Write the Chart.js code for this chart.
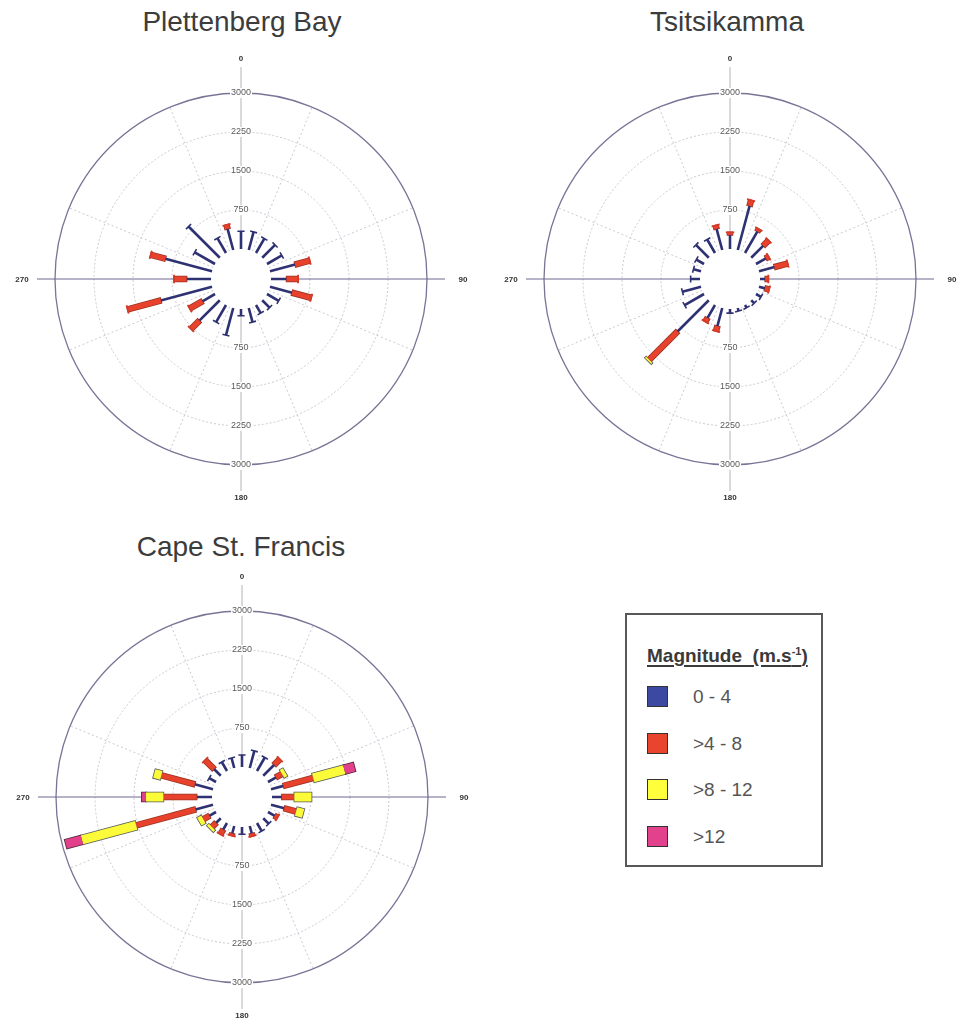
<!DOCTYPE html>
<html>
<head>
<meta charset="utf-8">
<script src="https://cdn.jsdelivr.net/npm/chart.js@4.4.1/dist/chart.umd.min.js"></script>
<style>
  html, body { margin:0; padding:0; background:#fff; width:957px; height:1027px; overflow:hidden; position:relative;
    font-family:"Liberation Sans", Arial, sans-serif; }
  .title { position:absolute; width:400px; text-align:center; font-size:28px; line-height:28px; color:#3c3c3c; }
  .rose { position:absolute; }
  #legend { position:absolute; left:625px; top:613px; width:194px; height:250px; border:2px solid #585858; }
  #legend .lg-title { position:absolute; left:20px; top:27px; font-size:19px; line-height:19px; font-weight:bold; color:#3a3a3a;
    text-decoration:underline; text-decoration-thickness:2px; text-underline-offset:3px; white-space:nowrap; }
  #legend .lg-title sup { font-size:11px; }
  #legend .sw { position:absolute; left:20px; width:21px; height:21px; box-sizing:border-box; border:1.5px solid #333; }
  #legend .lb { position:absolute; left:66px; font-size:19px; line-height:21px; color:#555; white-space:nowrap; }
</style>
</head>
<body>
<div class="title" style="left:42px; top:8px;">Plettenberg Bay</div>
<div class="title" style="left:527px; top:8px;">Tsitsikamma</div>
<div class="title" style="left:41px; top:533px;">Cape St. Francis</div>

<canvas id="plett" class="rose" width="470" height="470" style="left:6px; top:44px;"></canvas>
<canvas id="tsit" class="rose" width="470" height="470" style="left:495px; top:44px;"></canvas>
<canvas id="cape" class="rose" width="470" height="470" style="left:7px; top:562px;"></canvas>

<div id="legend"></div>

<script>
// Direction sectors (degrees clockwise from north) and count ring ticks
const directions = [0, 15, 30, 45, 60, 75, 90, 105, 120, 135, 150, 165,
                    180, 195, 210, 225, 240, 255, 270, 285, 300, 315, 330, 345];
const ringTicks = [750, 1500, 2250, 3000];
const compassLabels = ['0', '90', '180', '270'];

// Speed classes
const classLabels = ['0 - 4', '>4 - 8', '>8 - 12', '>12'];
const classColors = ['#2f3272', '#e8422c', '#fbfb3a', '#e2408a'];
const classOutline = [null, '#9c3424', '#585858', '#4a2a3a'];
const classWidths = [2.6, 5, 9, 9];

// Plettenberg Bay counts per direction
const plettBlue    = [340, 360, 320, 350, 330, 500, 300, 440, 260, 200, 180, 280, 130, 540, 380, 555, 280, 1020, 470, 930, 450, 850, 330, 420];
const plettRed     = [0, 0, 0, 0, 0, 290, 220, 380, 0, 0, 0, 0, 0, 0, 0, 225, 280, 660, 240, 290, 0, 0, 0, 80];
const plettYellow  = [0, 0, 0, 0, 0, 0, 0, 0, 0, 0, 0, 0, 0, 0, 0, 0, 0, 0, 0, 0, 0, 0, 0, 0];
const plettMagenta = [0, 0, 0, 0, 0, 0, 0, 0, 0, 0, 0, 0, 0, 0, 0, 0, 0, 0, 0, 0, 0, 0, 0, 0];

// Tsitsikamma counts per direction
const tsitBlue    = [270, 880, 480, 330, 220, 310, 100, 120, 110, 80, 60, 60, 80, 360, 290, 850, 430, 370, 180, 150, 170, 350, 300, 420];
const tsitRed     = [50, 110, 50, 140, 60, 260, 60, 80, 0, 0, 0, 0, 0, 100, 80, 770, 0, 0, 0, 0, 0, 0, 0, 70];
const tsitYellow  = [0, 0, 0, 0, 0, 0, 0, 0, 0, 0, 0, 0, 0, 0, 0, 30, 0, 0, 0, 0, 0, 0, 0, 0];
const tsitMagenta = [0, 0, 0, 0, 0, 0, 0, 0, 0, 0, 0, 0, 0, 0, 0, 0, 0, 0, 0, 0, 0, 0, 0, 0];

// Cape St. Francis counts per direction
const capeBlue    = [230, 340, 300, 300, 180, 250, 190, 265, 150, 150, 180, 150, 140, 150, 150, 130, 150, 350, 295, 365, 150, 185, 200, 200];
const capeRed     = [0, 0, 0, 150, 130, 590, 240, 235, 60, 0, 0, 50, 0, 40, 100, 110, 130, 1180, 640, 665, 0, 240, 0, 0];
const capeYellow  = [0, 0, 0, 0, 70, 620, 330, 140, 0, 0, 0, 0, 0, 0, 0, 50, 90, 1080, 335, 140, 0, 0, 0, 0];
const capeMagenta = [0, 0, 0, 0, 0, 200, 0, 0, 0, 0, 0, 0, 0, 0, 0, 0, 0, 320, 80, 0, 0, 0, 0, 0];

// Geometry in count units: 3000 counts span 156 px, the empty centre is 30 px wide
const pxPerUnit = 156 / 3000;
const holeValue = 30 / pxPerUnit;
const halfExtent = 235 / pxPerUnit;

const GAP = { x: null, y: null };

function pt(dir, rho) {
  const a = dir * Math.PI / 180;
  return { x: rho * Math.sin(a), y: rho * Math.cos(a) };
}

function lineSet(data, color, width, order) {
  return {
    data, showLine: true, borderColor: color, backgroundColor: color, borderWidth: width,
    borderCapStyle: 'butt', borderJoinStyle: 'miter', pointRadius: 0, pointHoverRadius: 0, pointHitRadius: 0,
    spanGaps: false, fill: false, tension: 0, order, clip: false
  };
}

function buildDatasets(series) {
  const fills = series.map(() => []);
  const outlines = series.map(() => []);
  const capBlue = [], capRed = [];
  const ext = 0.8 / pxPerUnit;
  directions.forEach((dir, i) => {
    let r0 = holeValue;
    let last = -1;
    series.forEach((vals, k) => {
      const v = vals[i];
      if (!v) return;
      const r1 = r0 + v;
      fills[k].push(pt(dir, r0), pt(dir, r1), GAP);
      outlines[k].push(pt(dir, r0 - ext), pt(dir, r1 + ext), GAP);
      r0 = r1;
      last = k;
    });
    if (last === 0 || last === 1) {
      const half = (last === 0 ? 3.6 : 4.2) / pxPerUnit;
      const a = dir * Math.PI / 180;
      const e = pt(dir, r0);
      const px = Math.cos(a) * half, py = -Math.sin(a) * half;
      const target = last === 0 ? capBlue : capRed;
      target.push({ x: e.x - px, y: e.y - py }, { x: e.x + px, y: e.y + py }, GAP);
    }
  });
  const sets = [];
  sets.push(lineSet(capBlue, classColors[0], 1.6, 0));
  sets.push(lineSet(capRed, '#d63a28', 1.8, 0));
  for (let k = series.length - 1; k >= 0; k--) {
    sets.push(lineSet(fills[k], classColors[k], classWidths[k], 1 + (series.length - 1 - k)));
  }
  for (let k = series.length - 1; k >= 1; k--) {
    sets.push(lineSet(outlines[k], classOutline[k], classWidths[k] + 1.6, 10 + (series.length - 1 - k)));
  }
  return sets;
}

// Polar grid, axes and labels drawn from the chart's own linear scales
const roseGrid = {
  id: 'roseGrid',
  beforeDatasetsDraw(chart) {
    const { ctx, scales: { x, y } } = chart;
    const cx = x.getPixelForValue(0), cy = y.getPixelForValue(0);
    const k = (x.getPixelForValue(1000) - cx) / 1000;
    const rpx = v => (holeValue + v) * k;
    ctx.save();

    // rings
    ringTicks.forEach(t => {
      ctx.beginPath();
      ctx.arc(cx, cy, rpx(t), 0, Math.PI * 2);
      if (t === ringTicks[ringTicks.length - 1]) {
        ctx.setLineDash([]);
        ctx.strokeStyle = '#7b7396';
        ctx.lineWidth = 1.3;
      } else {
        ctx.setLineDash([2, 2]);
        ctx.strokeStyle = '#c9c9d3';
        ctx.lineWidth = 1;
      }
      ctx.stroke();
    });

    // dotted spokes
    ctx.setLineDash([2, 2.5]);
    ctx.strokeStyle = '#c9c9d3';
    ctx.lineWidth = 1;
    for (let d = 22.5; d < 360; d += 45) {
      const a = d * Math.PI / 180;
      const r0 = rpx(0), r1 = rpx(3000);
      ctx.beginPath();
      ctx.moveTo(cx + r0 * Math.sin(a), cy - r0 * Math.cos(a));
      ctx.lineTo(cx + r1 * Math.sin(a), cy - r1 * Math.cos(a));
      ctx.stroke();
    }
    ctx.setLineDash([]);

    // axes
    const inner = rpx(0);
    ctx.strokeStyle = '#b4b4b8';
    ctx.lineWidth = 1;
    ctx.beginPath();
    ctx.moveTo(cx, cy - inner); ctx.lineTo(cx, cy - 212);
    ctx.moveTo(cx, cy + inner); ctx.lineTo(cx, cy + 212);
    ctx.stroke();
    ctx.strokeStyle = '#6e6892';
    ctx.beginPath();
    ctx.moveTo(cx - inner, cy); ctx.lineTo(cx - 204, cy);
    ctx.moveTo(cx + inner, cy); ctx.lineTo(cx + 204, cy);
    ctx.stroke();

    // ring tick labels on the vertical axis
    ctx.font = '9px "Liberation Sans", Arial, sans-serif';
    ctx.textAlign = 'center';
    ctx.textBaseline = 'middle';
    ringTicks.forEach(t => {
      const label = String(t);
      const w = ctx.measureText(label).width + 2;
      [-1, 1].forEach(s => {
        const yy = cy + s * rpx(t);
        ctx.fillStyle = '#ffffff';
        ctx.fillRect(cx - w / 2, yy - 5, w, 10);
        ctx.fillStyle = '#5a5a5a';
        ctx.fillText(label, cx, yy);
      });
    });

    // compass labels
    ctx.font = 'bold 8px "Liberation Sans", Arial, sans-serif';
    ctx.fillStyle = '#333';
    ctx.fillText(compassLabels[0], cx, cy - 220);
    ctx.fillText(compassLabels[1], cx + 222, cy + 1);
    ctx.fillText(compassLabels[2], cx, cy + 219);
    ctx.fillText(compassLabels[3], cx - 219, cy + 1);
    ctx.restore();
  }
};

function makeRose(id, series) {
  new Chart(document.getElementById(id), {
    type: 'scatter',
    data: { datasets: buildDatasets(series) },
    options: {
      responsive: false,
      animation: false,
      events: [],
      devicePixelRatio: 1,
      layout: { padding: 0 },
      plugins: { legend: { display: false }, tooltip: { enabled: false }, title: { display: false } },
      scales: {
        x: { type: 'linear', min: -halfExtent, max: halfExtent, display: false },
        y: { type: 'linear', min: -halfExtent, max: halfExtent, display: false }
      }
    },
    plugins: [roseGrid]
  });
}

makeRose('plett', [plettBlue, plettRed, plettYellow, plettMagenta]);
makeRose('tsit', [tsitBlue, tsitRed, tsitYellow, tsitMagenta]);
makeRose('cape', [capeBlue, capeRed, capeYellow, capeMagenta]);

// Legend box
const legendSwatch = ['#3b4aa0', '#e8442e', '#ffff3c', '#e2418c'];
const legend = document.getElementById('legend');
let html = '<div class="lg-title">Magnitude&nbsp; (m.s<sup>-1</sup>)</div>';
const rowTops = [71, 118, 164, 211];
classLabels.forEach((lab, i) => {
  html += '<div class="sw" style="top:' + rowTops[i] + 'px;background:' + legendSwatch[i] + '"></div>';
  html += '<div class="lb" style="top:' + rowTops[i] + 'px">' + lab.replace('>', '&gt;') + '</div>';
});
legend.innerHTML = html;
</script>
</body>
</html>
